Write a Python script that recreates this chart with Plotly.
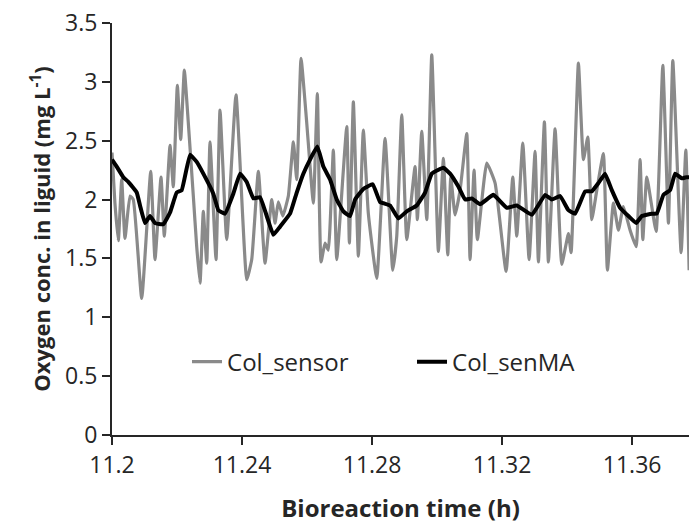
import plotly.graph_objects as go

# Col_sensor (gray raw signal)
sensor_t = [11.2000, 11.2009, 11.20194, 11.20298, 11.2040, 11.20554, 11.20655, 11.20914, 11.21191, 11.21323,
            11.21508, 11.21609, 11.21785, 11.21886, 11.2201, 11.22114, 11.22225, 11.22348, 11.22502, 11.22606,
            11.22708, 11.22809, 11.22914, 11.23015, 11.2320, 11.23323, 11.23529, 11.23815, 11.24145, 11.24298,
            11.24502, 11.24708, 11.24914, 11.25015, 11.25117, 11.25252, 11.25425, 11.25579, 11.25683, 11.25815,
            11.25991, 11.26194, 11.26317, 11.26431, 11.26554, 11.26655, 11.26809, 11.26914, 11.27222, 11.27302,
            11.27425, 11.27579, 11.27732, 11.27886, 11.28145, 11.2840, 11.28637, 11.2876, 11.28914, 11.29068,
            11.29323, 11.29394, 11.29529, 11.29683, 11.29837, 11.3004, 11.30194, 11.30329, 11.30422, 11.30554,
            11.30708, 11.30914, 11.31015, 11.31138, 11.3124, 11.31529, 11.31785, 11.32123, 11.32329, 11.32452,
            11.32637, 11.32831, 11.33015, 11.33117, 11.33302, 11.33425, 11.33631, 11.33837, 11.3404, 11.34123,
            11.34348, 11.34502, 11.34637, 11.3476, 11.34914, 11.35117, 11.3524, 11.35425, 11.35579, 11.35732,
            11.35938, 11.36123, 11.36246, 11.36329, 11.36452, 11.36738, 11.36945, 11.37117, 11.37252, 11.37508,
            11.37652, 11.37754]
sensor_v = [2.40, 1.97, 1.65, 2.17, 1.67, 2.03, 2.00, 1.16, 2.24, 1.49,
            2.19, 1.69, 2.46, 2.11, 2.97, 2.51, 3.10, 2.65, 2.03, 1.60,
            1.29, 1.90, 1.46, 2.49, 1.49, 2.76, 1.66, 2.89, 1.32, 1.49,
            2.24, 1.46, 2.00, 1.80, 1.98, 1.86, 2.03, 2.49, 2.17, 3.20,
            2.65, 1.97, 2.90, 1.47, 1.63, 1.57, 2.42, 1.49, 2.62, 1.63,
            2.83, 1.52, 2.59, 1.88, 1.33, 2.52, 1.40, 1.69, 2.72, 1.66,
            2.28, 1.83, 2.58, 1.83, 3.23, 1.56, 2.35, 1.53, 2.19, 1.87,
            2.08, 2.56, 1.49, 2.25, 1.66, 2.31, 2.14, 1.39, 2.19, 1.69,
            2.48, 1.49, 2.41, 1.47, 2.66, 1.47, 2.60, 1.45, 1.71, 1.55,
            3.16, 2.34, 2.53, 1.83, 2.08, 2.39, 1.40, 1.97, 1.74, 1.94,
            1.74, 1.60, 2.34, 1.66, 2.19, 1.73, 3.14, 1.80, 3.18, 1.55,
            2.42, 1.40]

# Col_senMA (black moving average)
ma_t = [11.2000, 11.20145, 11.20348, 11.20502, 11.2076, 11.20862, 11.21015, 11.21169, 11.21323, 11.21578,
        11.21785, 11.2199, 11.22145, 11.2240, 11.22606, 11.22809, 11.23117, 11.23271, 11.23477, 11.23732,
        11.23938, 11.24145, 11.24348, 11.24554, 11.2476, 11.24963, 11.25169, 11.25477, 11.25683, 11.25886,
        11.26092, 11.26317, 11.26502, 11.26708, 11.26914, 11.27117, 11.27323, 11.27477, 11.27732, 11.28021,
        11.28246, 11.28554, 11.28809, 11.29068, 11.29375, 11.29631, 11.29837, 11.30194, 11.3040, 11.30655,
        11.30862, 11.31068, 11.31323, 11.31732, 11.32145, 11.32452, 11.32914, 11.33323, 11.33529, 11.33785,
        11.3404, 11.34246, 11.34554, 11.3476, 11.34963, 11.35169, 11.35375, 11.35631, 11.35886, 11.36123,
        11.36298, 11.36606, 11.3676, 11.36963, 11.37169, 11.37323, 11.37529, 11.37683, 11.3775]
ma_v = [2.34, 2.28, 2.19, 2.15, 2.06, 1.95, 1.80, 1.86, 1.80, 1.79,
        1.89, 2.06, 2.08, 2.38, 2.32, 2.22, 2.05, 1.91, 1.88, 2.05,
        2.22, 2.15, 2.01, 2.02, 1.86, 1.70, 1.77, 1.88, 2.06, 2.22,
        2.34, 2.45, 2.28, 2.17, 2.00, 1.90, 1.86, 2.00, 2.09, 2.13,
        1.98, 1.95, 1.84, 1.90, 1.95, 2.06, 2.22, 2.27, 2.22, 2.11,
        2.00, 2.01, 1.96, 2.04, 1.93, 1.95, 1.87, 2.04, 2.00, 2.03,
        1.91, 1.88, 2.07, 2.07, 2.14, 2.22, 2.08, 1.93, 1.86, 1.80,
        1.86, 1.88, 1.88, 2.04, 2.08, 2.22, 2.18, 2.19, 2.19]

x_ticks = [11.2, 11.24, 11.28, 11.32, 11.36]
x_tick_text = ["11.2", "11.24", "11.28", "11.32", "11.36"]
y_ticks = [0, 0.5, 1, 1.5, 2, 2.5, 3, 3.5]
y_tick_text = ["0", "0.5", "1", "1.5", "2", "2.5", "3", "3.5"]

FONT = "Open Sans, Noto Sans, sans-serif"
TXT = "#262626"

fig = go.Figure()
fig.add_trace(go.Scatter(x=sensor_t, y=sensor_v, mode="lines", name="Col_sensor",
                         line=dict(color="#8a8a8a", width=3.2, shape="spline", smoothing=0.4)))
fig.add_trace(go.Scatter(x=ma_t, y=ma_v, mode="lines", name="Col_senMA",
                         line=dict(color="#000000", width=4, shape="spline", smoothing=0.3)))

fig.update_layout(
    width=689, height=526,
    margin=dict(l=112, r=0, t=23, b=91),
    paper_bgcolor="white", plot_bgcolor="white",
    font=dict(family=FONT, size=23, color=TXT),
    showlegend=True,
    legend=dict(orientation="h", x=0.13, y=0.177, xanchor="left", yanchor="middle",
                bgcolor="rgba(0,0,0,0)", font=dict(size=24, color=TXT),
                entrywidth=180, entrywidthmode="pixels", tracegroupgap=0),
    xaxis=dict(range=[11.2, 11.3775], tickvals=x_ticks, ticktext=x_tick_text,
               showgrid=False, zeroline=False, showline=True, linecolor=TXT, linewidth=2,
               ticks="outside", ticklen=8, tickwidth=2, tickcolor=TXT,
               tickfont=dict(size=23),
               title=dict(text="<b>Bioreaction time (h)</b>", font=dict(size=24), standoff=22)),
    yaxis=dict(range=[0, 3.5], tickvals=y_ticks, ticktext=y_tick_text,
               showgrid=False, zeroline=False, showline=True, linecolor=TXT, linewidth=2,
               ticks="outside", ticklen=8, tickwidth=2, tickcolor=TXT,
               tickfont=dict(size=23),
               title=dict(text="<b>Oxygen conc. in liguid (mg L<sup>-1</sup>)</b>", font=dict(size=22), standoff=8)),
)

fig.write_html("out.html")
